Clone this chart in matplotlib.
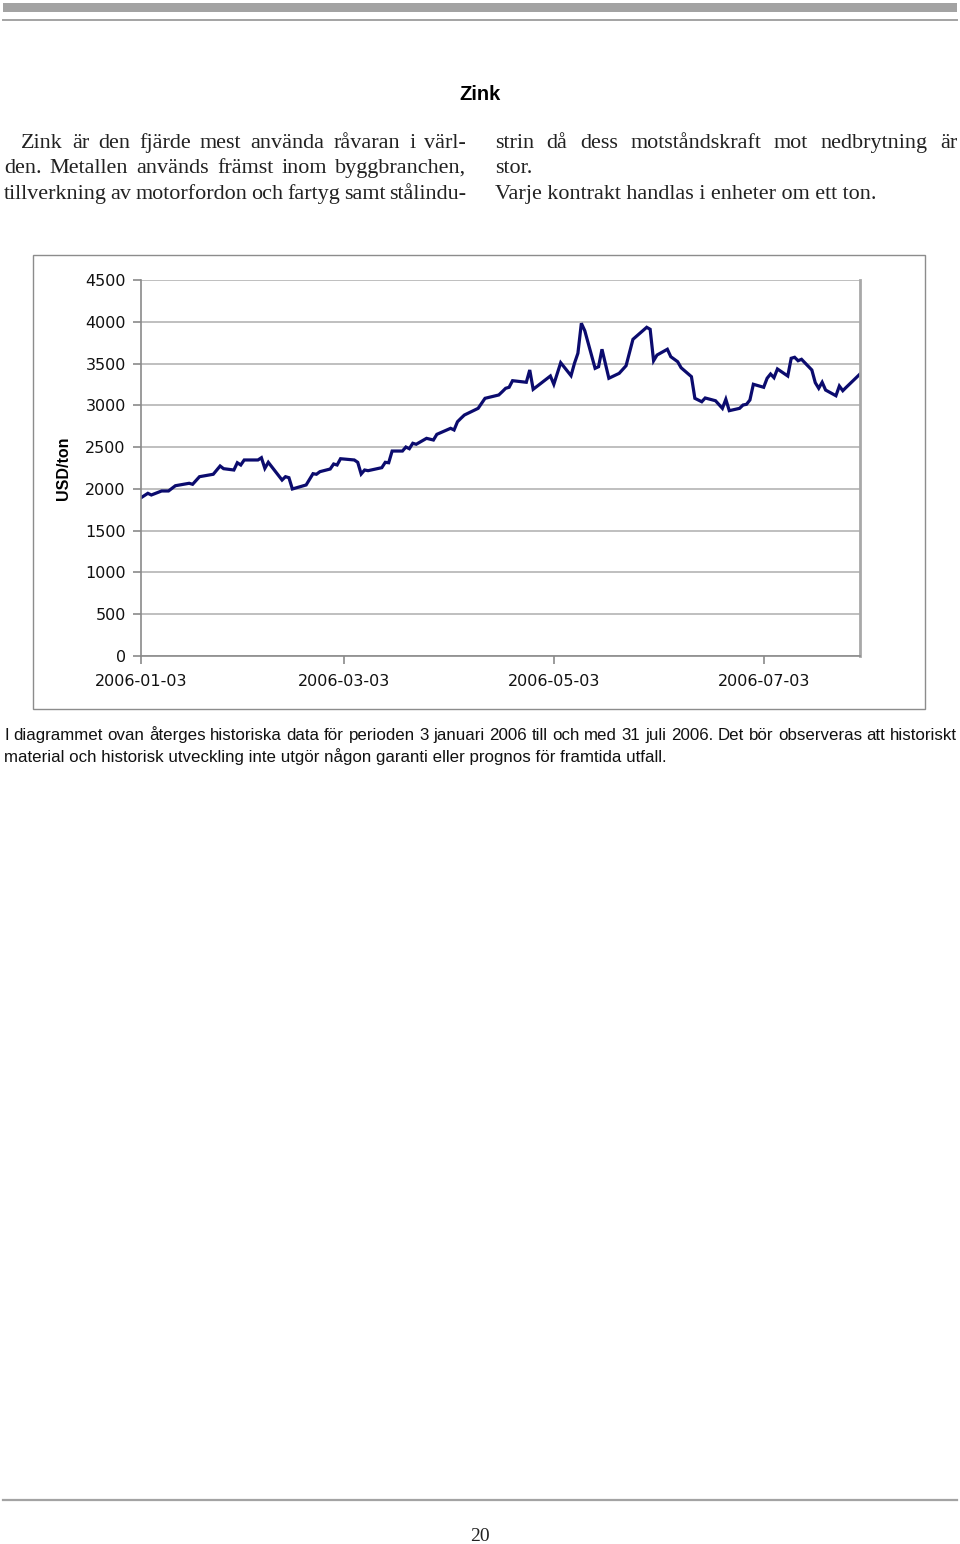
import matplotlib
matplotlib.use('Agg')
import matplotlib.pyplot as plt
import matplotlib.dates as mdates
import pandas as pd
from matplotlib.patches import Rectangle
from matplotlib.lines import Line2D

# Zinkpris USD/ton
datum = ['2006-01-03', '2006-01-05', '2006-01-06', '2006-01-09', '2006-01-11', '2006-01-13',
         '2006-01-17', '2006-01-18', '2006-01-20', '2006-01-24', '2006-01-26', '2006-01-27',
         '2006-01-30', '2006-01-31', '2006-02-01', '2006-02-02', '2006-02-06', '2006-02-07',
         '2006-02-08', '2006-02-09', '2006-02-13', '2006-02-14', '2006-02-15', '2006-02-16',
         '2006-02-20', '2006-02-22', '2006-02-23', '2006-02-24', '2006-02-27', '2006-02-28',
         '2006-03-01', '2006-03-02', '2006-03-06', '2006-03-07', '2006-03-08', '2006-03-09',
         '2006-03-10', '2006-03-14', '2006-03-15', '2006-03-16', '2006-03-17', '2006-03-20',
         '2006-03-21', '2006-03-22', '2006-03-23', '2006-03-24', '2006-03-27', '2006-03-29',
         '2006-03-30', '2006-04-03', '2006-04-04', '2006-04-05', '2006-04-06', '2006-04-07',
         '2006-04-11', '2006-04-12', '2006-04-13', '2006-04-17', '2006-04-18', '2006-04-19',
         '2006-04-20', '2006-04-21', '2006-04-25', '2006-04-26', '2006-04-27', '2006-05-02',
         '2006-05-03', '2006-05-05', '2006-05-08', '2006-05-09', '2006-05-10', '2006-05-11',
         '2006-05-12', '2006-05-15', '2006-05-16', '2006-05-17', '2006-05-19', '2006-05-22',
         '2006-05-24', '2006-05-26', '2006-05-30', '2006-05-31', '2006-06-01', '2006-06-02',
         '2006-06-05', '2006-06-06', '2006-06-08', '2006-06-09', '2006-06-12', '2006-06-13',
         '2006-06-15', '2006-06-16', '2006-06-19', '2006-06-21', '2006-06-22', '2006-06-23',
         '2006-06-26', '2006-06-27', '2006-06-28', '2006-06-29', '2006-06-30', '2006-07-03',
         '2006-07-04', '2006-07-05', '2006-07-06', '2006-07-07', '2006-07-10', '2006-07-11',
         '2006-07-12', '2006-07-13', '2006-07-14', '2006-07-17', '2006-07-18', '2006-07-19',
         '2006-07-20', '2006-07-21', '2006-07-24', '2006-07-25', '2006-07-26', '2006-07-27',
         '2006-07-31']
pris = [1894, 1947, 1927, 1975, 1975, 2038,
        2067, 2055, 2146, 2175, 2274, 2242,
        2226, 2313, 2286, 2346, 2346, 2373,
        2246, 2318, 2106, 2146, 2134, 1999,
        2047, 2182, 2175, 2206, 2238, 2298,
        2286, 2361, 2346, 2318, 2178, 2226,
        2218, 2254, 2318, 2313, 2453, 2453,
        2501, 2481, 2546, 2534, 2605, 2585,
        2653, 2725, 2705, 2804, 2845, 2884,
        2964, 3024, 3084, 3124, 3163, 3204,
        3216, 3295, 3276, 3423, 3192, 3351,
        3252, 3510, 3355, 3503, 3623, 3982,
        3893, 3443, 3462, 3671, 3324, 3383,
        3474, 3790, 3934, 3910, 3534, 3602,
        3671, 3582, 3522, 3450, 3343, 3084,
        3043, 3088, 3055, 2964, 3072, 2936,
        2964, 3004, 3012, 3064, 3252, 3216,
        3324, 3375, 3331, 3435, 3351, 3563,
        3575, 3534, 3551, 3423, 3271, 3204,
        3276, 3183, 3115, 3231, 3175, 3216,
        3375]
y_ticks = [0, 500, 1000, 1500, 2000, 2500, 3000, 3500, 4000, 4500]
x_ticks = ['2006-01-03', '2006-03-03', '2006-05-03', '2006-07-03']
x_start, x_slut = '2006-01-03', '2006-07-31'

W, H = 960, 1544
fig = plt.figure(figsize=(W / 100, H / 100), dpi=100)
renderer = fig.canvas.get_renderer()


def px(x, y):
    return x / W, 1 - y / H


def rad(text, x0, x1, y, justera=True, **kw):
    # skriv en rad, ev. utjämnad (justerad) mellan x0 och x1
    ord_ = text.split(' ')
    if not justera or len(ord_) == 1:
        fig.text(*px(x0, y), text, ha='left', va='baseline', **kw)
        return
    bredd = []
    for o in ord_:
        t = fig.text(0, 0, o, **kw)
        bredd.append(t.get_window_extent(renderer).width)
        t.remove()
    mellanrum = (x1 - x0 - sum(bredd)) / (len(ord_) - 1)
    x = x0
    for o, b in zip(ord_, bredd):
        fig.text(*px(x, y), o, ha='left', va='baseline', **kw)
        x += b + mellanrum


# sidhuvud
fig.add_artist(Rectangle(px(3, 11.5), 954 / W, 8 / H, transform=fig.transFigure,
                         color='#a3a3a3', lw=0))
fig.add_artist(Line2D([3 / W, 957 / W], [1 - 19.8 / H] * 2, transform=fig.transFigure,
                      color='#a3a3a3', lw=1.4))

fig.text(*px(480, 100), 'Zink', ha='center', va='baseline', fontsize=14.5,
         fontweight='bold', family='Liberation Sans')

serif = dict(fontsize=15.9, family='Liberation Serif', color='#222222')
rad('Zink är den fjärde mest använda råvaran i värl-', 21, 466, 148, **serif)
rad('den. Metallen används främst inom byggbranchen,', 4, 466, 173, **serif)
rad('tillverkning av motorfordon och fartyg samt stålindu-', 4, 466, 199, **serif)
rad('strin då dess motståndskraft mot nedbrytning är', 495, 957, 148, **serif)
rad('stor.', 495, 957, 173, justera=False, **serif)
rad('Varje kontrakt handlas i enheter om ett ton.', 495, 957, 199, justera=False, **serif)

# diagramram
fig.add_artist(Rectangle(px(33, 709), 892 / W, 454 / H, transform=fig.transFigure,
                         facecolor='none', edgecolor='#8c8c8c', lw=1.0))

ax = fig.add_axes([141 / W, 1 - 656 / H, 719 / W, 376 / H])
df = pd.DataFrame({'datum': pd.to_datetime(datum), 'pris': pris})
ax.plot(df['datum'], df['pris'], color='#0b0b6e', lw=2.3, solid_joinstyle='miter')

ax.set_ylim(0, 4500)
ax.set_yticks(y_ticks)
ax.set_xlim(pd.Timestamp(x_start), pd.Timestamp(x_slut))
ax.set_xticks(pd.to_datetime(x_ticks))
ax.xaxis.set_major_formatter(mdates.DateFormatter('%Y-%m-%d'))
ax.grid(axis='y', color='#b4b4b4', lw=1.2)
ax.set_axisbelow(True)

for s in ['left', 'bottom']:
    ax.spines[s].set_color('#8a8a8a')
    ax.spines[s].set_linewidth(1.2)
ax.spines['top'].set_visible(False)
ax.spines['right'].set_color('#a8a8a8')
ax.spines['right'].set_linewidth(2.0)

ax.tick_params(axis='both', colors='#8a8a8a', labelcolor='#111111', labelsize=11.5,
               length=6, width=1.2, direction='out')
ax.tick_params(axis='y', pad=5)
ax.tick_params(axis='x', pad=7)
for lbl in ax.get_xticklabels() + ax.get_yticklabels():
    lbl.set_family('DejaVu Sans')
ax.set_ylabel('USD/ton', fontsize=11.5, fontweight='bold', family='Liberation Sans',
              labelpad=10)

# text under diagrammet
sans = dict(fontsize=12.2, family='Liberation Sans', color='#111111')
rad('I diagrammet ovan återges historiska data för perioden 3 januari 2006 till och med '
    '31 juli 2006. Det bör observeras att historiskt', 4, 957, 740, **sans)
rad('material och historisk utveckling inte utgör någon garanti eller prognos för framtida utfall.',
    4, 957, 762, justera=False, **sans)

# sidfot
fig.add_artist(Line2D([3 / W, 957 / W], [1 - 1500 / H] * 2, transform=fig.transFigure,
                      color='#a3a3a3', lw=1.6))
fig.text(*px(480, 1541), '20', ha='center', va='baseline', fontsize=14,
         family='Liberation Serif', color='#222222')

fig.savefig('out.png', dpi=100)
